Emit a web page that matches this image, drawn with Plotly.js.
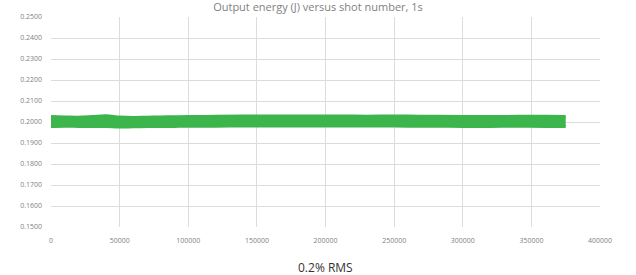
<!DOCTYPE html>
<html>
<head>
<meta charset="utf-8">
<script src="https://cdn.plot.ly/plotly-3.0.1.min.js"></script>
<style>html,body{margin:0;padding:0;background:#fff;}#chart{width:636px;height:275px;}</style>
</head>
<body>
<div id="chart"></div>
<script>
// Shot number samples along the band
const shots = [0, 10000, 20000, 30000, 40000, 50000, 60000, 70000, 80000, 90000, 100000,
  120000, 140000, 160000, 180000, 200000, 220000, 240000, 260000, 280000, 300000,
  320000, 340000, 360000, 375000];
// Upper and lower envelope of the output energy cloud (J)
const energyUpper = [0.2026, 0.2024, 0.2023, 0.2026, 0.2030, 0.2024, 0.2022, 0.2023, 0.2024, 0.2025, 0.2026,
  0.2027, 0.2028, 0.2029, 0.2029, 0.2029, 0.2028, 0.2028, 0.2029, 0.2027, 0.2026,
  0.2026, 0.2027, 0.2027, 0.2026];
const energyLower = [0.1978, 0.1980, 0.1979, 0.1978, 0.1979, 0.1976, 0.1977, 0.1978, 0.1979, 0.1979, 0.1980,
  0.1980, 0.1981, 0.1981, 0.1981, 0.1981, 0.1981, 0.1981, 0.1980, 0.1980, 0.1979,
  0.1979, 0.1980, 0.1979, 0.1978];
const yTicks = [0.15, 0.16, 0.17, 0.18, 0.19, 0.20, 0.21, 0.22, 0.23, 0.24, 0.25];
const xTicks = [0, 50000, 100000, 150000, 200000, 250000, 300000, 350000, 400000];
const titleText = 'Output energy (J) versus shot number, 1s';
const captionText = '0.2% RMS';

const green = '#3cb64c';
const traces = [
  {x: shots, y: energyLower, mode: 'lines', line: {color: green, width: 3, shape: 'spline'}, hoverinfo: 'skip', showlegend: false},
  {x: shots, y: energyUpper, mode: 'lines', line: {color: green, width: 3, shape: 'spline'}, fill: 'tonexty', fillcolor: green, hoverinfo: 'skip', showlegend: false}
];
const tickFont = {family: 'Open Sans, sans-serif', size: 7, color: '#7f7f7f'};
const layout = {
  width: 636, height: 275,
  margin: {l: 51, r: 36, t: 17, b: 48},
  paper_bgcolor: '#ffffff', plot_bgcolor: '#ffffff',
  title: {text: titleText, font: {family: 'Open Sans, sans-serif', size: 11, color: '#7f7f7f'}, x: 0.5, xanchor: 'center', y: 0.975, yanchor: 'middle', yref: 'container'},
  xaxis: {range: [0, 400000], tickvals: xTicks, ticktext: xTicks.map(String), tickfont: tickFont, ticklabelstandoff: 8,
    showgrid: true, gridcolor: '#dcdcdc', gridwidth: 1, zeroline: false, showline: false, ticks: '', ticklen: 0, fixedrange: true},
  yaxis: {range: [0.15, 0.25], tickvals: yTicks, ticktext: yTicks.map(v => v.toFixed(4)), tickfont: tickFont, ticklabelstandoff: 8,
    showgrid: true, gridcolor: '#dcdcdc', gridwidth: 1, zeroline: false, showline: false, ticks: '', ticklen: 0, fixedrange: true},
  annotations: [{text: captionText, xref: 'paper', yref: 'paper', x: 0.5, y: -0.195, xanchor: 'center', yanchor: 'middle', showarrow: false,
    font: {family: 'Open Sans, sans-serif', size: 12, color: '#333333'}}]
};
Plotly.newPlot('chart', traces, layout, {displayModeBar: false, staticPlot: true});
</script>
</body>
</html>
